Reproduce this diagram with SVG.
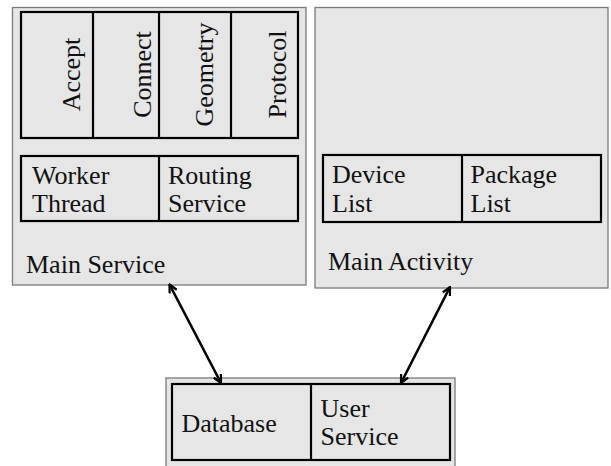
<svg xmlns="http://www.w3.org/2000/svg" width="611" height="466" viewBox="0 0 611 466">
  <style>
    .outer { fill: #e6e6e6; stroke: #7a7a7a; stroke-width: 1.3; }
    .inner { fill: #e6e6e6; stroke: #000; stroke-width: 2.2; }
    .div { stroke: #000; stroke-width: 2.2; }
    .link { stroke: #000; stroke-width: 2.6; fill: none; marker-start: url(#arr); marker-end: url(#arr); }
  </style>
  <defs>
    <marker id="arr" viewBox="0 0 10 10" refX="9" refY="5" markerWidth="10" markerHeight="10" markerUnits="userSpaceOnUse" orient="auto-start-reverse">
      <path d="M1,1 L9,5 L1,9" fill="none" stroke="#000" stroke-width="2.2" stroke-linejoin="miter"/>
    </marker>
  </defs>

  <g font-family="Liberation Serif, Times New Roman, Times, DejaVu Serif, serif" font-size="26" fill="#111">
  <!-- Main Service container -->
  <g id="main-service">
    <rect class="outer" x="12.5" y="7.5" width="293.5" height="277.5"/>
    <g id="handlers">
      <rect class="inner" x="21" y="12" width="277" height="126"/>
      <line class="div" x1="93" y1="12" x2="93" y2="138"/>
      <line class="div" x1="159" y1="12" x2="159" y2="138"/>
      <line class="div" x1="231" y1="12" x2="231" y2="138"/>
      <text transform="translate(80,74.5) rotate(-90)" text-anchor="middle">Accept</text>
      <text transform="translate(150.5,74.5) rotate(-90)" text-anchor="middle">Connect</text>
      <text transform="translate(213,74.5) rotate(-90)" text-anchor="middle">Geometry</text>
      <text transform="translate(286,74.5) rotate(-90)" text-anchor="middle">Protocol</text>
    </g>
    <g id="workers">
      <rect class="inner" x="21" y="156" width="277" height="65"/>
      <line class="div" x1="159" y1="156" x2="159" y2="221"/>
      <text x="32" y="184">Worker</text>
      <text x="32" y="212">Thread</text>
      <text x="168" y="184">Routing</text>
      <text x="168" y="212">Service</text>
    </g>
    <text x="26" y="272.5">Main Service</text>
  </g>

  <!-- Main Activity container -->
  <g id="main-activity">
    <rect class="outer" x="315" y="7.5" width="293" height="280.5"/>
    <g id="lists">
      <rect class="inner" x="323" y="155" width="278" height="67"/>
      <line class="div" x1="462" y1="155" x2="462" y2="222"/>
      <text x="332" y="183">Device</text>
      <text x="332" y="212">List</text>
      <text x="470.5" y="183">Package</text>
      <text x="470.5" y="212">List</text>
    </g>
    <text x="328" y="269.5">Main Activity</text>
  </g>

  <!-- Storage container -->
  <g id="storage">
    <rect class="outer" x="166" y="378" width="289" height="92"/>
    <rect class="inner" x="172" y="384" width="278" height="76"/>
    <line class="div" x1="311" y1="384" x2="311" y2="460"/>
    <text x="181.5" y="431.5">Database</text>
    <text x="320.5" y="416.5">User</text>
    <text x="320.5" y="445">Service</text>
  </g>
  </g>

  <!-- Connectors -->
  <g id="connectors">
    <line class="link" x1="169.5" y1="284.5" x2="221" y2="383"/>
    <line class="link" x1="450" y1="287" x2="401" y2="383"/>
  </g>
</svg>
